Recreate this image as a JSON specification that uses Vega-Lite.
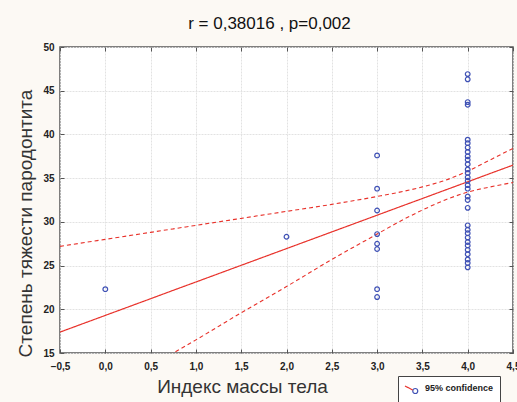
{
  "$schema": "https://vega.github.io/schema/vega-lite/v6.json",
  "width": 453,
  "height": 306,
  "autosize": {"type": "none"},
  "padding": {"left": 60, "top": 47, "right": 4, "bottom": 49},
  "background": "#fcf9f4",
  "config": {
    "font": "Liberation Sans",
    "view": {"fill": "#ffffff", "stroke": "#555555", "strokeWidth": 1.5}
  },
  "title": {"text": "r = 0,38016 , p=0,002", "fontSize": 17, "fontWeight": "normal", "color": "#111111", "font": "Liberation Sans", "offset": 9, "dx": -17, "anchor": "middle"},
  "datasets": {
    "pts": [
      {"x": 0, "y": 22.3},
      {"x": 2, "y": 28.3},
      {"x": 3, "y": 37.6}, {"x": 3, "y": 33.8}, {"x": 3, "y": 31.3}, {"x": 3, "y": 28.6},
      {"x": 3, "y": 27.5}, {"x": 3, "y": 26.9}, {"x": 3, "y": 22.3}, {"x": 3, "y": 21.4},
      {"x": 4, "y": 46.9}, {"x": 4, "y": 46.3}, {"x": 4, "y": 43.7}, {"x": 4, "y": 43.4},
      {"x": 4, "y": 39.4}, {"x": 4, "y": 39.0}, {"x": 4, "y": 38.5}, {"x": 4, "y": 38.0},
      {"x": 4, "y": 37.5}, {"x": 4, "y": 37.1}, {"x": 4, "y": 36.6}, {"x": 4, "y": 36.0},
      {"x": 4, "y": 35.6}, {"x": 4, "y": 35.1}, {"x": 4, "y": 34.7}, {"x": 4, "y": 34.2},
      {"x": 4, "y": 33.8}, {"x": 4, "y": 32.9}, {"x": 4, "y": 32.5}, {"x": 4, "y": 31.6},
      {"x": 4, "y": 29.6}, {"x": 4, "y": 29.1}, {"x": 4, "y": 28.7}, {"x": 4, "y": 28.2},
      {"x": 4, "y": 27.7}, {"x": 4, "y": 27.3}, {"x": 4, "y": 26.8}, {"x": 4, "y": 26.3},
      {"x": 4, "y": 25.7}, {"x": 4, "y": 25.3}, {"x": 4, "y": 24.8}
    ],
    "fit": [
      {"x": -0.5, "fit": 17.39, "lo": 7.6, "hi": 27.2},
      {"x": 0, "fit": 19.3, "lo": 10.4, "hi": 28.0},
      {"x": 0.5, "fit": 21.21, "lo": 13.5, "hi": 28.8},
      {"x": 0.75, "fit": 22.17, "lo": 15.0, "hi": 29.2},
      {"x": 1, "fit": 23.12, "lo": 16.5, "hi": 29.6},
      {"x": 1.5, "fit": 25.03, "lo": 19.6, "hi": 30.4},
      {"x": 2, "fit": 26.94, "lo": 22.6, "hi": 31.2},
      {"x": 2.5, "fit": 28.85, "lo": 25.7, "hi": 32.0},
      {"x": 3, "fit": 30.76, "lo": 28.6, "hi": 32.9},
      {"x": 3.25, "fit": 31.72, "lo": 30.05, "hi": 33.4},
      {"x": 3.5, "fit": 32.67, "lo": 31.35, "hi": 34.0},
      {"x": 3.75, "fit": 33.63, "lo": 32.5, "hi": 34.75},
      {"x": 4, "fit": 34.58, "lo": 33.4, "hi": 35.8},
      {"x": 4.25, "fit": 35.54, "lo": 34.0, "hi": 37.1},
      {"x": 4.5, "fit": 36.49, "lo": 34.5, "hi": 38.4}
    ]
  },
  "layer": [
    {
      "data": {"name": "fit"},
      "mark": {"type": "line", "color": "#e8322b", "strokeWidth": 1.1, "strokeDash": [4, 3], "clip": true, "interpolate": "monotone"},
      "encoding": {
        "x": {"field": "x", "type": "quantitative", "scale": {"domain": [-0.5, 4.5], "nice": false, "zero": false},
          "axis": {"orient": "bottom", "values": [-0.5, 0, 0.5, 1, 1.5, 2, 2.5, 3, 3.5, 4, 4.5],
            "labelExpr": "replace(format(datum.value, '.1f'), '.', ',')",
            "labelFont": "Liberation Sans", "labelFontSize": 10, "labelFontWeight": "bold", "labelColor": "#222222",
            "labelPadding": 12, "labelFlush": false,
            "domain": false, "ticks": true, "tickSize": -4, "tickColor": "#555555",
            "grid": true, "gridColor": "#e2e2e2", "gridDash": [2, 1],
            "title": "Индекс массы тела", "titleFont": "Liberation Sans", "titleFontSize": 19, "titleFontWeight": "normal", "titleColor": "#333333", "titleX": 182, "titlePadding": 6}},
        "y": {"field": "hi", "type": "quantitative", "scale": {"domain": [15, 50], "nice": false, "zero": false},
          "axis": {"orient": "left", "values": [15, 20, 25, 30, 35, 40, 45, 50], "format": "d",
            "labelFont": "Liberation Sans", "labelFontSize": 10, "labelFontWeight": "bold", "labelColor": "#222222",
            "labelPadding": 10, "labelFlush": false,
            "domain": false, "ticks": true, "tickSize": -4, "tickColor": "#555555",
            "grid": true, "gridColor": "#e2e2e2", "gridDash": [2, 1],
            "title": "Степень тяжести пародонтита", "titleFont": "Liberation Sans", "titleFontSize": 19, "titleFontWeight": "normal", "titleColor": "#333333", "titleY": 176, "titlePadding": 7}}
      }
    },
    {
      "data": {"name": "fit"},
      "mark": {"type": "line", "color": "#e8322b", "strokeWidth": 1.1, "strokeDash": [4, 3], "clip": true, "interpolate": "monotone"},
      "encoding": {
        "x": {"field": "x", "type": "quantitative", "axis": null},
        "y": {"field": "lo", "type": "quantitative", "axis": null}
      }
    },
    {
      "data": {"name": "fit"},
      "mark": {"type": "line", "color": "#e8322b", "strokeWidth": 1.2, "clip": true},
      "encoding": {
        "x": {"field": "x", "type": "quantitative",
          "axis": {"orient": "top", "values": [-0.5, 0, 0.5, 1, 1.5, 2, 2.5, 3, 3.5, 4, 4.5], "labels": false, "domain": false, "grid": false, "ticks": true, "tickSize": -4, "tickColor": "#555555", "title": null}},
        "y": {"field": "fit", "type": "quantitative",
          "axis": {"orient": "right", "values": [15, 20, 25, 30, 35, 40, 45, 50], "labels": false, "domain": false, "grid": false, "ticks": true, "tickSize": -4, "tickColor": "#555555", "title": null}},
        "strokeDash": {"datum": "fit", "scale": {"range": [[1, 0]]},
          "legend": {"orient": "none", "legendX": 338, "legendY": 329, "title": null, "padding": 6, "zindex": 2,
            "symbolType": "M-1,-0.4L0.55,0.4", "symbolSize": 100, "symbolStrokeColor": "#e8322b", "symbolStrokeWidth": 1.2, "symbolDash": [1, 0],
            "labelExpr": "''", "labelOffset": 9, "labelFontSize": 9}}
      }
    },
    {
      "data": {"name": "pts"},
      "mark": {"type": "point", "filled": false, "color": "#3f51b5", "size": 22, "strokeWidth": 1.2},
      "encoding": {
        "x": {"field": "x", "type": "quantitative", "axis": null},
        "y": {"field": "y", "type": "quantitative", "axis": null},
        "opacity": {"datum": "95% confidence", "scale": {"range": [1]},
          "legend": {"orient": "none", "legendX": 338, "legendY": 329, "title": null, "padding": 6, "zindex": 1,
            "strokeColor": "#444444", "fillColor": "#ffffff", "symbolSize": 100,
            "symbolType": "M0.55,0.6A0.5,0.5,0,1,0,1.55,0.6A0.5,0.5,0,1,0,0.55,0.6Z",
            "symbolStrokeColor": "#3f51b5", "symbolFillColor": "transparent", "symbolStrokeWidth": 1.2,
            "labelExpr": "datum.label + '              '",
            "labelOffset": 9, "labelFont": "Liberation Sans", "labelFontSize": 9, "labelFontWeight": "bold", "labelColor": "#222222"}}
      }
    }
  ],
  "resolve": {"axis": {"x": "independent", "y": "independent"}}
}
